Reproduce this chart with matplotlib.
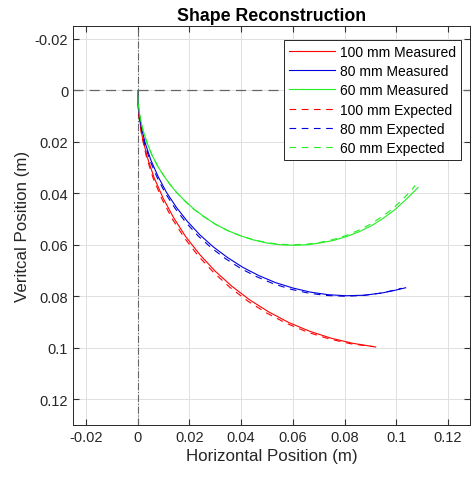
import matplotlib
matplotlib.use("Agg")
from matplotlib import pyplot as plt

plt.rcParams['font.family'] = ['Liberation Sans', 'DejaVu Sans']

# Expected shapes (x, y) in metres
exp_100_x = [0.0, 0.0004, 0.0015, 0.0034, 0.0060, 0.0094, 0.0134, 0.0181, 0.0234, 0.0293,
             0.0357, 0.0426, 0.0500, 0.0577, 0.0658, 0.0741, 0.0826, 0.0913]
exp_100_y = [0.0, 0.0087, 0.0174, 0.0259, 0.0342, 0.0423, 0.0500, 0.0574, 0.0643, 0.0707,
             0.0766, 0.0819, 0.0866, 0.0906, 0.0940, 0.0966, 0.0985, 0.0996]
exp_80_x = [0.0, 0.0003, 0.0012, 0.0027, 0.0048, 0.0075, 0.0107, 0.0145, 0.0187, 0.0234,
            0.0286, 0.0341, 0.0400, 0.0462, 0.0526, 0.0593, 0.0661, 0.0730, 0.0800, 0.0870,
            0.0939, 0.0980, 0.1020]
exp_80_y = [0.0, 0.0070, 0.0139, 0.0207, 0.0274, 0.0338, 0.0400, 0.0459, 0.0514, 0.0566,
            0.0613, 0.0655, 0.0693, 0.0725, 0.0752, 0.0773, 0.0788, 0.0797, 0.0800, 0.0797,
            0.0788, 0.0779, 0.0769]
exp_60_x = [0.0, 0.0002, 0.0009, 0.0020, 0.0036, 0.0056, 0.0080, 0.0109, 0.0140, 0.0176,
            0.0214, 0.0256, 0.0300, 0.0346, 0.0395, 0.0445, 0.0496, 0.0548, 0.0600, 0.0652,
            0.0704, 0.0755, 0.0805, 0.0854, 0.0900, 0.0944, 0.0986, 0.1024, 0.1060, 0.1073]
exp_60_y = [0.0, 0.0052, 0.0104, 0.0155, 0.0205, 0.0254, 0.0300, 0.0344, 0.0386, 0.0424,
            0.0460, 0.0491, 0.0520, 0.0544, 0.0564, 0.0580, 0.0591, 0.0598, 0.0600, 0.0598,
            0.0591, 0.0580, 0.0564, 0.0544, 0.0520, 0.0491, 0.0460, 0.0424, 0.0386, 0.0369]

# Measured shapes
meas_100_x = [0.0, 0.0004, 0.0016, 0.0036, 0.0063, 0.0098, 0.0139, 0.0186, 0.0240, 0.0299,
              0.0364, 0.0433, 0.0507, 0.0584, 0.0665, 0.0748, 0.0833, 0.0920]
meas_100_y = [0.001, 0.0088, 0.0172, 0.0256, 0.0338, 0.0418, 0.0495, 0.0569, 0.0638, 0.0702,
              0.0761, 0.0814, 0.0861, 0.0902, 0.0936, 0.0963, 0.0983, 0.0997]
meas_80_x = [0.0, 0.0003, 0.0013, 0.0029, 0.0051, 0.0079, 0.0111, 0.0150, 0.0192, 0.0240,
             0.0292, 0.0348, 0.0407, 0.0469, 0.0533, 0.0600, 0.0668, 0.0737, 0.0807, 0.0877,
             0.0946, 0.0990, 0.1036]
meas_80_y = [0.001, 0.0071, 0.0138, 0.0205, 0.0271, 0.0335, 0.0396, 0.0455, 0.0509, 0.0561,
             0.0608, 0.0650, 0.0688, 0.0720, 0.0747, 0.0768, 0.0784, 0.0794, 0.0798, 0.0796,
             0.0787, 0.0778, 0.0767]
meas_60_x = [0.0, 0.0002, 0.0009, 0.0021, 0.0037, 0.0057, 0.0081, 0.0110, 0.0142, 0.0178,
             0.0217, 0.0258, 0.0302, 0.0348, 0.0397, 0.0447, 0.0498, 0.0550, 0.0602, 0.0654,
             0.0706, 0.0758, 0.0808, 0.0857, 0.0904, 0.0948, 0.0990, 0.1029, 0.1066, 0.1084]
meas_60_y = [0.001, 0.0053, 0.0105, 0.0156, 0.0206, 0.0255, 0.0301, 0.0345, 0.0387, 0.0425,
             0.0461, 0.0492, 0.0521, 0.0545, 0.0565, 0.0581, 0.0593, 0.0600, 0.0602, 0.0600,
             0.0593, 0.0583, 0.0568, 0.0549, 0.0526, 0.0498, 0.0467, 0.0432, 0.0396, 0.0377]

red = '#ff0000'
blue = '#0000dd'
green = '#22ee22'
dash = (0, (6, 5))

fig = plt.figure(figsize=(4.71, 4.81), dpi=100)
ax = fig.add_axes([0.155, 0.1144, 0.843, 0.8296])

# Reference lines through the origin
ax.axhline(0, color='#666666', linestyle=(0, (8, 5)), linewidth=0.9, zorder=1)
ax.axvline(0, color='#666666', linestyle='-.', linewidth=0.8, zorder=1)

ax.plot(meas_100_x, meas_100_y, color=red, linewidth=0.8, label='100 mm Measured')
ax.plot(meas_80_x, meas_80_y, color=blue, linewidth=0.8, label='80 mm Measured')
ax.plot(meas_60_x, meas_60_y, color=green, linewidth=0.8, label='60 mm Measured')
ax.plot(exp_100_x, exp_100_y, color=red, linewidth=0.8, linestyle=dash, label='100 mm Expected')
ax.plot(exp_80_x, exp_80_y, color=blue, linewidth=0.8, linestyle=dash, label='80 mm Expected')
ax.plot(exp_60_x, exp_60_y, color=green, linewidth=0.8, linestyle=dash, label='60 mm Expected')

ticks = [-0.02, 0, 0.02, 0.04, 0.06, 0.08, 0.1, 0.12]
tick_labels = ['-0.02', '0', '0.02', '0.04', '0.06', '0.08', '0.1', '0.12']
ax.set_xlim(-0.025, 0.1285)
ax.set_ylim(0.13, -0.025)
ax.set_xticks(ticks)
ax.set_xticklabels(tick_labels)
ax.set_yticks(ticks)
ax.set_yticklabels(tick_labels)

ax.grid(True, color='#e0e0e0', linewidth=0.7)
ax.set_axisbelow(True)
ax.tick_params(direction='in', top=True, right=True, labelsize=10.5, length=4,
               color='#333333', labelcolor='#262626')
for s in ax.spines.values():
    s.set_color('#262626')
    s.set_linewidth(0.7)

ax.set_title('Shape Reconstruction', fontsize=12.8, fontweight='bold', pad=4)
ax.set_xlabel('Horizontal Position (m)', fontsize=12.2, color='#262626', labelpad=3)
ax.set_ylabel('Veritcal Position (m)', fontsize=12.2, color='#262626', labelpad=3)

leg = ax.legend(loc='upper right', bbox_to_anchor=(0.977, 0.965), borderaxespad=0,
                fontsize=10, frameon=True, fancybox=False, edgecolor='#262626',
                framealpha=1, handlelength=3.3, handletextpad=0.4,
                labelspacing=0.38, borderpad=0.35)
leg.get_frame().set_linewidth(0.7)

fig.savefig('out.png', dpi=100)
